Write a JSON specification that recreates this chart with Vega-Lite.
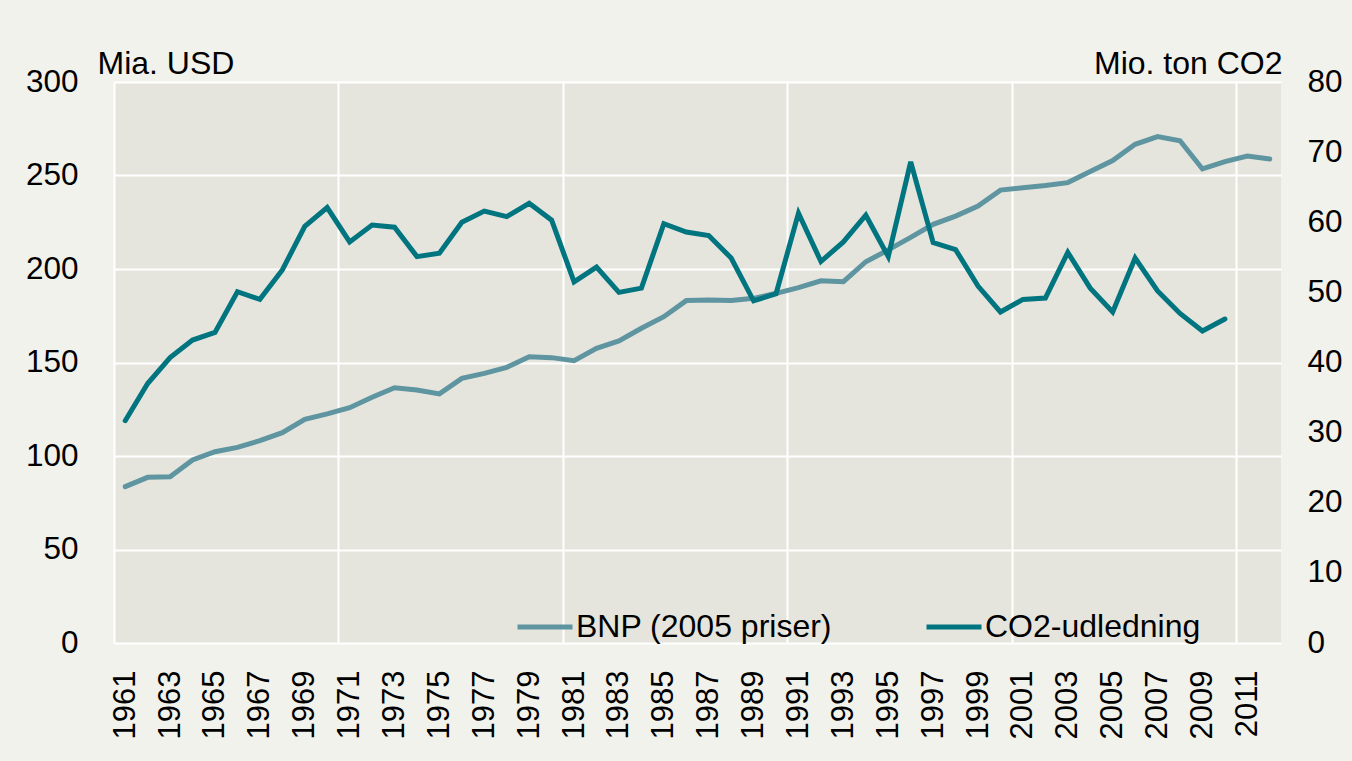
{
  "$schema": "https://vega.github.io/schema/vega-lite/v6.json",
  "width": 1167,
  "height": 561,
  "autosize": {"type": "none"},
  "padding": {"left": 114, "top": 82, "right": 71, "bottom": 118},
  "background": "#F2F2EC",
  "config": {
    "view": {"fill": "#E5E5DD", "stroke": null},
    "font": "Liberation Sans",
    "axis": {"labelColor": "#000000", "titleColor": "#000000", "labelFont": "Liberation Sans", "titleFont": "Liberation Sans"},
    "legend": {"labelColor": "#000000", "labelFont": "Liberation Sans"}
  },
  "data": {"values": [
    {"year": 1961, "bnp": 83.6, "co2": 31.7},
    {"year": 1962, "bnp": 88.6, "co2": 37.0},
    {"year": 1963, "bnp": 88.9, "co2": 40.7},
    {"year": 1964, "bnp": 97.9, "co2": 43.2},
    {"year": 1965, "bnp": 102.3, "co2": 44.3},
    {"year": 1966, "bnp": 104.6, "co2": 50.1},
    {"year": 1967, "bnp": 108.2, "co2": 49.0},
    {"year": 1968, "bnp": 112.5, "co2": 53.2},
    {"year": 1969, "bnp": 119.6, "co2": 59.4},
    {"year": 1970, "bnp": 122.5, "co2": 62.1},
    {"year": 1971, "bnp": 125.8, "co2": 57.2},
    {"year": 1972, "bnp": 131.4, "co2": 59.6},
    {"year": 1973, "bnp": 136.5, "co2": 59.3},
    {"year": 1974, "bnp": 135.3, "co2": 55.1},
    {"year": 1975, "bnp": 133.2, "co2": 55.6},
    {"year": 1976, "bnp": 141.5, "co2": 60.0},
    {"year": 1977, "bnp": 144.2, "co2": 61.6},
    {"year": 1978, "bnp": 147.4, "co2": 60.8},
    {"year": 1979, "bnp": 153.1, "co2": 62.7},
    {"year": 1980, "bnp": 152.6, "co2": 60.3},
    {"year": 1981, "bnp": 151.0, "co2": 51.5},
    {"year": 1982, "bnp": 157.6, "co2": 53.6},
    {"year": 1983, "bnp": 161.5, "co2": 50.0},
    {"year": 1984, "bnp": 168.3, "co2": 50.6},
    {"year": 1985, "bnp": 174.5, "co2": 59.8},
    {"year": 1986, "bnp": 183.1, "co2": 58.6},
    {"year": 1987, "bnp": 183.4, "co2": 58.1},
    {"year": 1988, "bnp": 183.1, "co2": 54.9},
    {"year": 1989, "bnp": 184.3, "co2": 48.8},
    {"year": 1990, "bnp": 187.0, "co2": 49.8},
    {"year": 1991, "bnp": 190.0, "co2": 61.3},
    {"year": 1992, "bnp": 193.7, "co2": 54.4},
    {"year": 1993, "bnp": 193.2, "co2": 57.2},
    {"year": 1994, "bnp": 203.9, "co2": 61.0},
    {"year": 1995, "bnp": 210.2, "co2": 55.1},
    {"year": 1996, "bnp": 216.9, "co2": 68.6},
    {"year": 1997, "bnp": 223.9, "co2": 57.1},
    {"year": 1998, "bnp": 228.3, "co2": 56.1},
    {"year": 1999, "bnp": 233.7, "co2": 50.9},
    {"year": 2000, "bnp": 242.2, "co2": 47.2},
    {"year": 2001, "bnp": 243.5, "co2": 49.0},
    {"year": 2002, "bnp": 244.6, "co2": 49.2},
    {"year": 2003, "bnp": 246.2, "co2": 55.7},
    {"year": 2004, "bnp": 252.1, "co2": 50.6},
    {"year": 2005, "bnp": 258.0, "co2": 47.2},
    {"year": 2006, "bnp": 266.7, "co2": 54.9},
    {"year": 2007, "bnp": 270.8, "co2": 50.2},
    {"year": 2008, "bnp": 268.6, "co2": 47.0},
    {"year": 2009, "bnp": 253.5, "co2": 44.5},
    {"year": 2010, "bnp": 257.4, "co2": 46.2},
    {"year": 2011, "bnp": 260.4, "co2": null},
    {"year": 2012, "bnp": 258.8, "co2": null}
  ]},
  "encoding": {
    "x": {
      "field": "year",
      "type": "quantitative",
      "scale": {"domain": [1960.5, 2012.5], "nice": false, "zero": false},
      "axis": {
        "title": null,
        "orient": "bottom",
        "values": [1960.5, 1970.5, 1980.5, 1990.5, 2000.5, 2010.5, 1961, 1963, 1965, 1967, 1969, 1971, 1973, 1975, 1977, 1979, 1981, 1983, 1985, 1987, 1989, 1991, 1993, 1995, 1997, 1999, 2001, 2003, 2005, 2007, 2009, 2011],
        "labelExpr": "datum.value % 1 === 0 ? '' + datum.value : ''",
        "labelAngle": -90,
        "labelAlign": "right",
        "labelBaseline": "middle",
        "labelFontSize": 31,
        "labelPadding": 27,
        "labelOverlap": false,
        "labelFlush": false,
        "ticks": false,
        "domain": false,
        "grid": true,
        "gridColor": "#FFFFFF",
        "gridWidth": 2,
        "gridOpacity": {"condition": {"test": "datum.value % 1 !== 0", "value": 1}, "value": 0}
      }
    }
  },
  "layer": [
    {
      "mark": {"type": "line", "strokeWidth": 5, "strokeCap": "round", "strokeJoin": "miter"},
      "encoding": {
        "y": {
          "field": "bnp",
          "type": "quantitative",
          "scale": {"domain": [0, 300], "nice": false},
          "axis": {
            "orient": "left",
            "values": [0, 50, 100, 150, 200, 250, 300],
            "grid": true,
            "gridColor": "#FFFFFF",
            "gridWidth": 2,
            "domain": false,
            "ticks": false,
            "labelFontSize": 31.5,
            "labelPadding": 36,
            "labelFlush": false,
            "title": "Mia. USD",
            "titleFontSize": 32,
            "titleFontWeight": "normal",
            "titleAngle": 0,
            "titleAlign": "left",
            "titleBaseline": "alphabetic",
            "titleX": -17,
            "titleY": -9
          }
        },
        "color": {
          "datum": "BNP (2005 priser)",
          "type": "nominal",
          "scale": {"domain": ["BNP (2005 priser)", "CO2-udledning"], "range": ["#5E95A0", "#00747F"]},
          "legend": {
            "title": null,
            "orient": "none",
            "legendX": 401,
            "legendY": 515,
            "direction": "horizontal",
            "symbolType": "stroke",
            "symbolSize": 3025,
            "symbolStrokeWidth": 5,
            "labelFontSize": 32,
            "labelLimit": 0,
            "labelOffset": 1,
            "columnPadding": 83,
            "padding": 0
          }
        }
      }
    },
    {
      "mark": {"type": "line", "strokeWidth": 5, "strokeCap": "round", "strokeJoin": "miter"},
      "encoding": {
        "y": {
          "field": "co2",
          "type": "quantitative",
          "scale": {"domain": [0, 80], "nice": false},
          "axis": {
            "orient": "right",
            "values": [0, 10, 20, 30, 40, 50, 60, 70, 80],
            "grid": false,
            "domain": false,
            "ticks": false,
            "labelFontSize": 31.5,
            "labelPadding": 26,
            "labelFlush": false,
            "title": "Mio. ton CO2",
            "titleFontSize": 32,
            "titleFontWeight": "normal",
            "titleAngle": 0,
            "titleAlign": "right",
            "titleBaseline": "alphabetic",
            "titleX": 1,
            "titleY": -9
          }
        },
        "color": {"datum": "CO2-udledning", "type": "nominal"}
      }
    }
  ],
  "resolve": {"scale": {"y": "independent"}, "axis": {"y": "independent"}}
}
